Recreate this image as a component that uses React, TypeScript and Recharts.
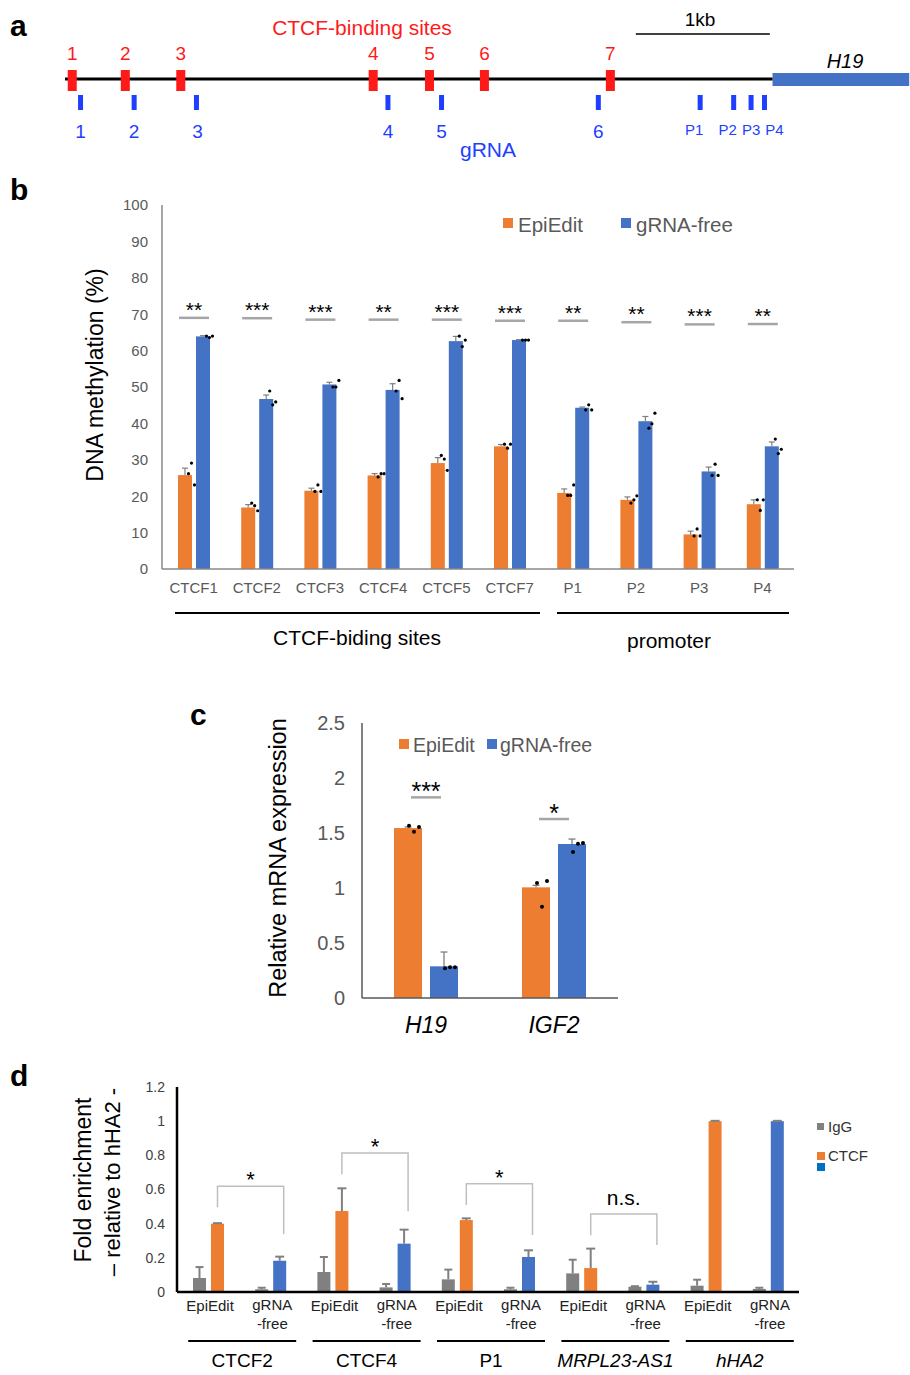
import React from 'react';
import { BarChart, Bar, XAxis, YAxis, ScatterChart, Scatter, ReferenceLine, ReferenceArea } from 'recharts';

const FONT = '"Liberation Sans", Arial, Helvetica, sans-serif';
const ORANGE = '#ED7D31';
const BLUE = '#4472C4';
const IGG_GRAY = '#808080';
const MAP_RED = '#FF1A1A';
const MAP_BLUE = '#1E3FFF';
const TICK_GRAY = '#595959';

// ---- a: locus map, positions in kb from the left end of the line
const siteNames = ['1', '2', '3', '4', '5', '6', '7'];
const siteKb = [0.054, 0.45, 0.864, 2.3, 2.72, 3.13, 4.07];
const guideNames = ['1', '2', '3', '4', '5', '6', 'P1', 'P2', 'P3', 'P4'];
const guideKb = [0.116, 0.516, 0.981, 2.41, 2.81, 3.98, 4.74, 4.99, 5.12, 5.22];
const guideLabelDx = [0, 0, 1, 0, 0, 0, -6, -6, 0, 10];
const h19Kb = [5.28, 6.3];
const scaleBarKb = [4.26, 5.26];

// ---- b: DNA methylation (%)
const methSites = ['CTCF1', 'CTCF2', 'CTCF3', 'CTCF4', 'CTCF5', 'CTCF7', 'P1', 'P2', 'P3', 'P4'];
const methEpi = [25.8, 16.9, 21.5, 25.7, 29.1, 33.7, 20.9, 19.0, 9.5, 17.8];
const methEpiErr = [1.9, 0.8, 0.7, 0.5, 1.5, 0.5, 1.1, 0.8, 0.9, 1.2];
const methEpiRep = [
  [26.2, 29.1, 23.1], [18.1, 17.4, 16.0], [21.3, 23.1, 21.3], [25.3, 26.2, 26.2], [31.2, 30.2, 27.1],
  [34.3, 33.2, 34.3], [20.2, 20.2, 23.1], [18.1, 19.0, 20.1], [9.1, 11.0, 9.1], [19.0, 16.1, 19.0],
];
const methFree = [63.9, 46.7, 50.7, 49.2, 62.6, 62.9, 44.3, 40.6, 26.8, 33.7];
const methFreeErr = [0.2, 1.1, 0.6, 1.7, 1.3, 0.1, 0.2, 1.3, 1.2, 1.2];
const methFreeRep = [
  [64.0, 63.6, 64.0], [48.9, 45.1, 45.9], [50.0, 50.0, 51.8], [48.9, 51.8, 46.8], [64.0, 61.1, 62.9],
  [62.9, 62.9, 62.9], [43.7, 45.1, 43.7], [38.7, 39.9, 42.8], [25.7, 28.8, 25.7], [35.7, 31.7, 32.9],
];
const methSig = ['**', '***', '***', '**', '***', '***', '**', '**', '***', '**'];
const methSigY = [69.0, 68.9, 68.5, 68.5, 68.5, 68.2, 68.2, 67.8, 67.2, 67.3];
const methTicks = [0, 10, 20, 30, 40, 50, 60, 70, 80, 90, 100];

// ---- c: relative mRNA expression
const genesC = ['H19', 'IGF2'];
const exprEpi = [1.545, 1.006];
const exprEpiErr = [0.01, 0.018];
const exprEpiRep = [[1.567, 1.512, 1.555], [1.045, 0.83, 1.064]];
const exprFree = [0.288, 1.4];
const exprFreeErr = [0.13, 0.045];
const exprFreeRep = [[0.27, 0.28, 0.28], [1.327, 1.403, 1.409]];
const exprSig = ['***', '*'];
const exprSigY = [1.824, 1.627];
const exprTicks = [0, 0.5, 1, 1.5, 2, 2.5];

// ---- d: ChIP fold enrichment
const genesD = ['CTCF2', 'CTCF4', 'P1', 'MRPL23-AS1', 'hHA2'];
const condsD = ['EpiEdit', 'gRNA-free'];
const iggVal = [0.082, 0.016, 0.117, 0.027, 0.074, 0.016, 0.109, 0.031, 0.037, 0.018];
const iggErr = [0.064, 0.009, 0.088, 0.02, 0.057, 0.009, 0.08, 0.003, 0.035, 0.007];
const ctcfVal = [0.4, 0.183, 0.474, 0.283, 0.421, 0.205, 0.14, 0.043, 1.0, 1.0];
const ctcfErr = [0.003, 0.024, 0.133, 0.082, 0.01, 0.039, 0.114, 0.017, 0.002, 0.002];
const bracketTop = [0.619, 0.814, 0.634, 0.457, 0];
const bracketLeft = [0.496, 0.69, 0.509, 0.332, 0];
const bracketRight = [0.34, 0.472, 0.334, 0.275, 0];
const bracketLabel = ['*', '*', '*', 'n.s.', ''];
const chipTicks = [0, 0.2, 0.4, 0.6, 0.8, 1, 1.2];

const mapData = siteNames.map((name, i) => ({ kb: siteKb[i], lane: 80, name }));
const guideData = guideNames.map((name, i) => ({ kb: guideKb[i], lane: 102.5, name, dx: guideLabelDx[i] }));

const methData = methSites.map((site, i) => ({
  site, epi: methEpi[i], epiErr: methEpiErr[i], epiRep: methEpiRep[i],
  free: methFree[i], freeErr: methFreeErr[i], freeRep: methFreeRep[i],
  sig: methSig[i], sigY: methSigY[i],
}));

const exprData = genesC.map((gene, i) => ({
  gene, epi: exprEpi[i], epiErr: exprEpiErr[i], epiRep: exprEpiRep[i],
  free: exprFree[i], freeErr: exprFreeErr[i], freeRep: exprFreeRep[i],
  sig: exprSig[i], sigY: exprSigY[i],
}));

const chipData = genesD.flatMap((gene, g) =>
  condsD.map((cond, c) => {
    const i = g * 2 + c;
    return {
      key: `${gene}|${cond}`, gene, cond,
      igg: iggVal[i], iggErr: iggErr[i], ctcf: ctcfVal[i], ctcfErr: ctcfErr[i],
      bTop: c === 0 ? bracketTop[g] : 0, bLeft: bracketLeft[g], bRight: bracketRight[g], bLabel: c === 0 ? bracketLabel[g] : '',
    };
  })
);

type ShapeCfg = {
  val: string; err: string; rep?: string; dx?: number[]; r?: number;
  errStroke: string; errW: number; cap: number; color?: (p: any) => string;
};

// bar + one-sided error whisker + replicate dots, all placed with the bar's own scale
const drawBar = (cfg: ShapeCfg, p: any, extra?: (yOf: (t: number) => number, x: number, w: number) => React.ReactNode) => {
  const { x, y, width, height, payload } = p;
  const v = payload[cfg.val];
  const base = y + height;
  const k = v > 0 ? height / v : 0;
  const yOf = (t: number) => base - t * k;
  const fill = cfg.color ? cfg.color(payload) : p.fill;
  const cx = x + width / 2;
  const e = payload[cfg.err] || 0;
  const reps: number[] = cfg.rep ? payload[cfg.rep] : [];
  const top = yOf(v + e);
  return (
    <g>
      <rect x={x} y={y} width={width} height={height} fill={fill} />
      {e > 0 && (
        <g stroke={cfg.errStroke} strokeWidth={cfg.errW}>
          <line x1={cx} x2={cx} y1={y} y2={top} />
          <line x1={cx - cfg.cap / 2} x2={cx + cfg.cap / 2} y1={top} y2={top} />
        </g>
      )}
      {reps.map((rv, i) => (
        <circle key={i} cx={x + width + (cfg.dx ? cfg.dx[i] : 0)} cy={yOf(rv)} r={cfg.r || 1.6} fill="#000" />
      ))}
      {extra && v > 0 ? extra(yOf, x, width) : null}
    </g>
  );
};

const B_GAP = 4;
const methEpiShape = (p: any) =>
  drawBar(
    { val: 'epi', err: 'epiErr', rep: 'epiRep', dx: [-3.5, -0.5, 2.5], errStroke: '#7f7f7f', errW: 1.2, cap: 6 },
    p,
    (yOf, x, w) => {
      const cx = x + w + B_GAP / 2;
      const ly = yOf(p.payload.sigY);
      return (
        <g>
          <line x1={cx - 15} x2={cx + 15} y1={ly} y2={ly} stroke="#A6A6A6" strokeWidth={2.5} />
          <text x={cx} y={ly - 1} textAnchor="middle" fontSize={21} fill="#000">{p.payload.sig}</text>
        </g>
      );
    }
  );
const methFreeShape = (p: any) =>
  drawBar({ val: 'free', err: 'freeErr', rep: 'freeRep', dx: [-3.5, -0.5, 2.5], errStroke: '#7f7f7f', errW: 1.2, cap: 6 }, p);

const C_GAP = 8;
const exprEpiShape = (p: any) =>
  drawBar(
    { val: 'epi', err: 'epiErr', rep: 'epiRep', dx: [-13, -8, -3], r: 2, errStroke: '#7f7f7f', errW: 1.3, cap: 7 },
    p,
    (yOf, x, w) => {
      const cx = x + w + C_GAP / 2;
      const ly = yOf(p.payload.sigY);
      return (
        <g>
          <line x1={cx - 15} x2={cx + 15} y1={ly} y2={ly} stroke="#A6A6A6" strokeWidth={2.5} />
          <text x={cx} y={ly + 3} textAnchor="middle" fontSize={25} fill="#000">{p.payload.sig}</text>
        </g>
      );
    }
  );
const exprFreeShape = (p: any) =>
  drawBar({ val: 'free', err: 'freeErr', rep: 'freeRep', dx: [-13, -8, -3], r: 2, errStroke: '#7f7f7f', errW: 1.3, cap: 7 }, p);

// d layout
const D_LEFT = 110, D_W = 690, D_YW = 67, D_RIGHT_M = 1;
const D_BAND = (D_W - D_YW - D_RIGHT_M) / chipData.length;
const D_PLOT_L = D_LEFT + D_YW;

const iggShape = (p: any) =>
  drawBar({ val: 'igg', err: 'iggErr', errStroke: '#808080', errW: 2, cap: 8, color: () => IGG_GRAY }, p);
const ctcfShape = (p: any) =>
  drawBar(
    { val: 'ctcf', err: 'ctcfErr', errStroke: '#808080', errW: 2, cap: 9, color: (d) => (d.cond === 'EpiEdit' ? ORANGE : BLUE) },
    p,
    (yOf, x, w) => {
      const d = p.payload;
      if (!d.bTop) return null;
      const lx = x + w / 2;
      const rx = lx + D_BAND + 4;
      const ty = yOf(d.bTop);
      const isNs = d.bLabel === 'n.s.';
      return (
        <g>
          <path d={`M${lx},${yOf(d.bLeft)} V${ty} H${rx} V${yOf(d.bRight)}`} fill="none" stroke="#BFBFBF" strokeWidth={1.5} />
          <text x={(lx + rx) / 2} y={isNs ? ty - 9 : ty + 1} textAnchor="middle" fontSize={isNs ? 21 : 22} fill="#000">{d.bLabel}</text>
        </g>
      );
    }
  );

const ChipTick = (p: any) => {
  const { x, y, payload } = p;
  const cond = String(payload.value).split('|')[1];
  if (cond === 'EpiEdit') {
    return <text x={x + 2} y={y + 11} textAnchor="middle" fontSize={15} fill="#222">EpiEdit</text>;
  }
  return (
    <text x={x + 2} y={y + 10} textAnchor="middle" fontSize={15} fill="#222">
      <tspan x={x + 2}>gRNA</tspan>
      <tspan x={x + 2} dy={19}>-free</tspan>
    </text>
  );
};

const SiteMark = (p: any) => (
  <g>
    <rect x={p.cx - 4.5} y={p.cy - 10} width={9} height={21} fill={MAP_RED} />
    <text x={p.cx} y={p.cy - 20} textAnchor="middle" fontSize={19} fill={MAP_RED}>{p.payload.name}</text>
  </g>
);
const GuideMark = (p: any) => {
  const isP = p.payload.name.startsWith('P');
  return (
    <g>
      <rect x={p.cx - 2.5} y={p.cy - 7.5} width={5} height={15} fill={MAP_BLUE} />
      <text x={p.cx + p.payload.dx} y={p.cy + (isP ? 32 : 35.5)} textAnchor="middle" fontSize={isP ? 15 : 19} fill={MAP_BLUE}>{p.payload.name}</text>
    </g>
  );
};

const abs = (left: number, top: number): React.CSSProperties => ({ position: 'absolute', left, top });

export default function App() {
  const dGroupCenters = genesD.map((_, g) => D_PLOT_L + D_BAND * (2 * g + 1) + 3);
  return (
    <div style={{ position: 'absolute', left: 0, top: 0, width: 910, height: 1375, background: '#fff', fontFamily: FONT, overflow: 'hidden' }}>
      {/* a */}
      <div style={abs(0, 0)}>
        <ScatterChart width={910} height={160} margin={{ top: 0, right: 0, bottom: 0, left: 0 }}>
          <XAxis type="number" dataKey="kb" domain={[-65 / 134, 845 / 134]} hide />
          <YAxis type="number" dataKey="lane" domain={[0, 160]} reversed hide />
          <ReferenceLine segment={[{ x: 0, y: 79 }, { x: h19Kb[0], y: 79 }]} stroke="#000" strokeWidth={3} />
          <ReferenceArea x1={h19Kb[0]} x2={h19Kb[1]} y1={73} y2={86} fill={BLUE} fillOpacity={1} stroke="none" />
          <ReferenceLine segment={[{ x: scaleBarKb[0], y: 34 }, { x: scaleBarKb[1], y: 34 }]} stroke="#000" strokeWidth={1.5} />
          <Scatter data={mapData} shape={SiteMark} isAnimationActive={false} />
          <Scatter data={guideData} shape={GuideMark} isAnimationActive={false} />
        </ScatterChart>
      </div>

      {/* b */}
      <div style={abs(100, 190)}>
        <BarChart width={710} height={420} data={methData} margin={{ top: 15, right: 16, bottom: 11, left: 0 }} barSize={14} barGap={B_GAP}>
          <XAxis dataKey="site" interval={0} tickLine={false} axisLine={{ stroke: '#898989', strokeWidth: 1.5 }} height={30} tickMargin={7} tick={{ fontSize: 15, fill: TICK_GRAY }} />
          <XAxis xAxisId="top" orientation="top" dataKey="site" height={0} tick={false} tickLine={false} axisLine={{ stroke: '#898989', strokeWidth: 1.5 }} />
          <YAxis domain={[0, 100]} ticks={methTicks} interval={0} width={62} tickLine={false} tickMargin={8} axisLine={{ stroke: '#898989', strokeWidth: 1.5 }} tick={{ fontSize: 15, fill: TICK_GRAY }} />
          <YAxis yAxisId="r" orientation="right" width={0} tick={false} tickLine={false} axisLine={{ stroke: '#898989', strokeWidth: 1.5 }} />
          <Bar dataKey="epi" fill={ORANGE} shape={methEpiShape} isAnimationActive={false} />
          <Bar dataKey="free" fill={BLUE} shape={methFreeShape} isAnimationActive={false} />
        </BarChart>
      </div>

      {/* c */}
      <div style={abs(280, 700)}>
        <BarChart width={340} height={350} data={exprData} margin={{ top: 23, right: 2, bottom: 7, left: 0 }} barSize={28} barGap={C_GAP}>
          <XAxis dataKey="gene" interval={0} tickLine={false} axisLine={{ stroke: '#595959', strokeWidth: 1.5 }} height={45} tickMargin={13} tick={{ fontSize: 23, fill: '#000', fontStyle: 'italic' }} />
          <XAxis xAxisId="top" orientation="top" dataKey="gene" height={0} tick={false} tickLine={false} axisLine={{ stroke: '#595959', strokeWidth: 1.5 }} />
          <YAxis domain={[0, 2.5]} ticks={exprTicks} interval={0} width={82} tickLine={false} tickMargin={11} axisLine={{ stroke: '#595959', strokeWidth: 1.5 }} tick={{ fontSize: 20, fill: TICK_GRAY }} />
          <YAxis yAxisId="r" orientation="right" width={0} tick={false} tickLine={false} axisLine={{ stroke: '#595959', strokeWidth: 1.5 }} />
          <Bar dataKey="epi" fill={ORANGE} shape={exprEpiShape} isAnimationActive={false} />
          <Bar dataKey="free" fill={BLUE} shape={exprFreeShape} isAnimationActive={false} />
        </BarChart>
      </div>

      {/* d */}
      <div style={abs(D_LEFT, 1070)}>
        <BarChart width={D_W} height={280} data={chipData} margin={{ top: 17, right: D_RIGHT_M, bottom: 18, left: 0 }} barSize={13} barGap={5}>
          <XAxis dataKey="key" interval={0} tickLine={false} axisLine={{ stroke: '#000', strokeWidth: 2.5 }} height={40} tick={ChipTick} />
          <XAxis xAxisId="top" orientation="top" dataKey="key" height={0} tick={false} tickLine={false} axisLine={{ stroke: '#000', strokeWidth: 2.5 }} />
          <YAxis domain={[0, 1.2]} ticks={chipTicks} interval={0} width={D_YW} tickLine={false} tickMargin={6} axisLine={{ stroke: '#000', strokeWidth: 2.5 }} tick={{ fontSize: 14, fill: '#404040' }} />
          <YAxis yAxisId="r" orientation="right" width={0} tick={false} tickLine={false} axisLine={{ stroke: '#000', strokeWidth: 2.5 }} />
          <Bar dataKey="igg" fill={IGG_GRAY} shape={iggShape} isAnimationActive={false} />
          <Bar dataKey="ctcf" fill={ORANGE} shape={ctcfShape} isAnimationActive={false} />
        </BarChart>
      </div>

      {/* annotations */}
      <svg width={910} height={1375} style={{ position: 'absolute', left: 0, top: 0, pointerEvents: 'none' }}>
        {/* panel letters */}
        <text x={10} y={36} fontSize={30} fontWeight="bold">a</text>
        <text x={10} y={200} fontSize={30} fontWeight="bold">b</text>
        <text x={190} y={725} fontSize={30} fontWeight="bold">c</text>
        <text x={10} y={1086} fontSize={30} fontWeight="bold">d</text>

        {/* a */}
        <text x={362} y={35} textAnchor="middle" fontSize={21} fill={MAP_RED}>CTCF-binding sites</text>
        <text x={700} y={26} textAnchor="middle" fontSize={19} fill="#000">1kb</text>
        <text x={845} y={68} textAnchor="middle" fontSize={20} fontStyle="italic" fill="#000">H19</text>
        <text x={488} y={157} textAnchor="middle" fontSize={21} fill={MAP_BLUE}>gRNA</text>

        {/* b */}
        <text x={95} y={375} textAnchor="middle" dominantBaseline="central" fontSize={23} fill="#000" transform="rotate(-90 95 375)">DNA methylation (%)</text>
        <rect x={503} y={218} width={10} height={10} fill={ORANGE} />
        <text x={518} y={232} fontSize={20.5} fill={TICK_GRAY}>EpiEdit</text>
        <rect x={621} y={218} width={10} height={10} fill={BLUE} />
        <text x={636} y={232} fontSize={20.5} fill={TICK_GRAY}>gRNA-free</text>
        <line x1={175} x2={540} y1={613} y2={613} stroke="#000" strokeWidth={2} />
        <line x1={557} x2={789} y1={613} y2={613} stroke="#000" strokeWidth={2} />
        <text x={357} y={645} textAnchor="middle" fontSize={21} fill="#000">CTCF-biding sites</text>
        <text x={669} y={648} textAnchor="middle" fontSize={21} fill="#000">promoter</text>

        {/* c */}
        <text x={278} y={858} textAnchor="middle" dominantBaseline="central" fontSize={23.5} fill="#000" transform="rotate(-90 278 858)">Relative mRNA expression</text>
        <rect x={399} y={739} width={10} height={10} fill={ORANGE} />
        <text x={413} y={752} fontSize={19.5} fill={TICK_GRAY}>EpiEdit</text>
        <rect x={487} y={739} width={10} height={10} fill={BLUE} />
        <text x={500} y={752} fontSize={19.5} fill={TICK_GRAY}>gRNA-free</text>

        {/* d */}
        <text x={83} y={1180} textAnchor="middle" dominantBaseline="central" fontSize={23} fill="#000" transform="rotate(-90 83 1180)">Fold enrichment</text>
        <text x={112} y={1182} textAnchor="middle" dominantBaseline="central" fontSize={22} fill="#000" transform="rotate(-90 112 1182)">– relative to hHA2 -</text>
        <rect x={817} y={1123} width={7} height={7} fill={IGG_GRAY} />
        <text x={828} y={1132} fontSize={15} fill="#333">IgG</text>
        <rect x={817} y={1152} width={8} height={8} fill={ORANGE} />
        <text x={828} y={1161} fontSize={15} fill="#333">CTCF</text>
        <rect x={817} y={1163} width={8} height={8} fill="#0070C0" />
        {genesD.map((g, i) => (
          <g key={g}>
            <line x1={dGroupCenters[i] - 54} x2={dGroupCenters[i] + 54} y1={1341} y2={1341} stroke="#000" strokeWidth={2} />
            <text x={dGroupCenters[i]} y={1367} textAnchor="middle" fontSize={19} fill="#000" fontStyle={i >= 3 ? 'italic' : 'normal'}>{g}</text>
          </g>
        ))}
      </svg>
    </div>
  );
}
